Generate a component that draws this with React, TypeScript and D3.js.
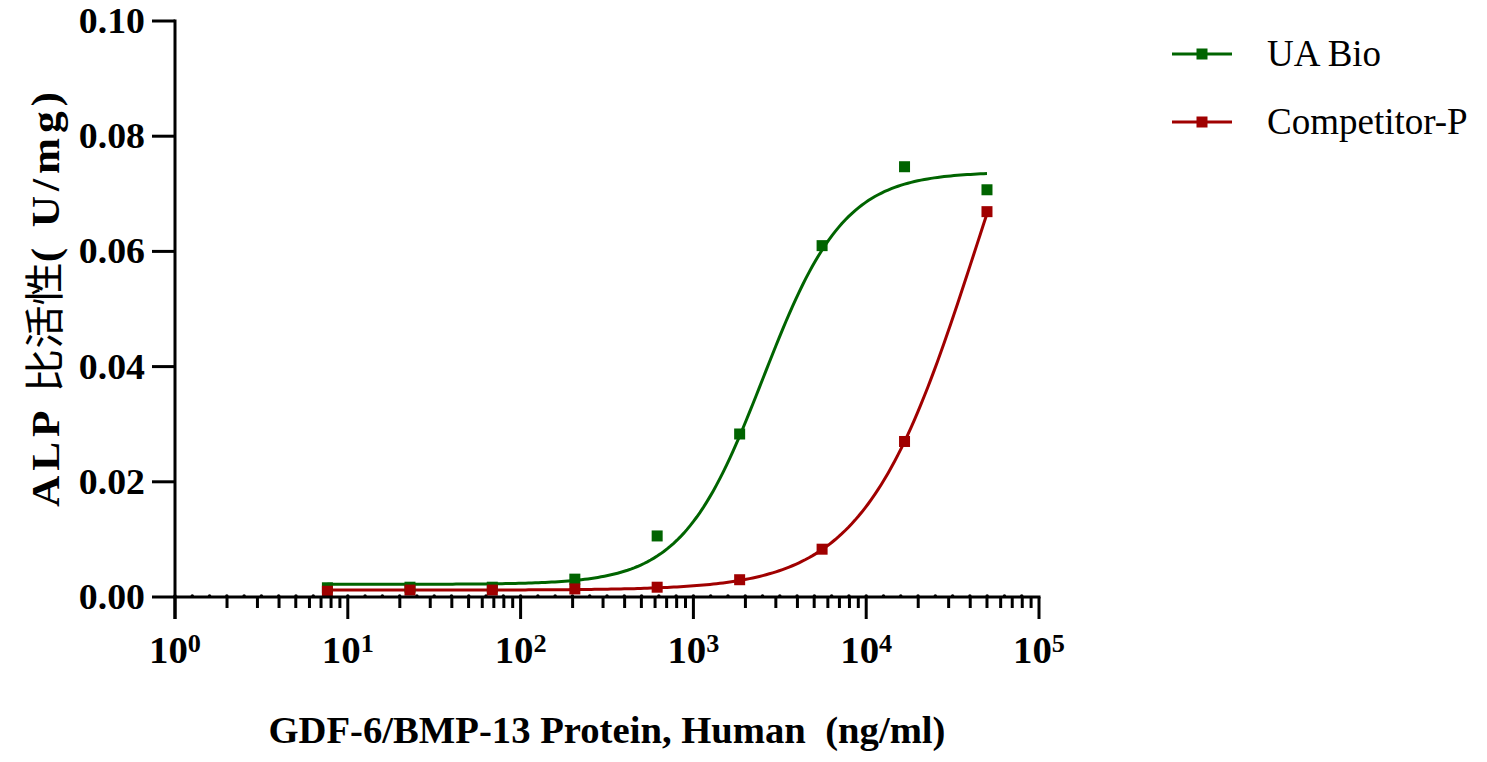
import React from "react";
import * as d3 from "d3";

// concentrations (ng/ml), 3-fold dilution series
const conc = [7.62, 22.9, 68.6, 206, 617, 1852, 5556, 16667, 50000];
const uaBio = [0.0016, 0.0017, 0.0017, 0.0031, 0.0106, 0.0283, 0.061, 0.0747, 0.0707];
const competitor = [0.001, 0.0012, 0.0012, 0.0014, 0.0017, 0.003, 0.0083, 0.027, 0.0669];

// 4PL fit: bottom, top, EC50, hill
const uaFit = [0.0022, 0.0738, 2530, 1.85];
const compFit = [0.0012, 0.12, 43100, 1.35];

const yTicks = [0, 0.02, 0.04, 0.06, 0.08, 0.1];
const xDecades = [0, 1, 2, 3, 4, 5];
const seriesNames = ["UA Bio", "Competitor-P"];
const colors = ["#006400", "#a00000"];

const W = 1487;
const H = 762;
const serif = "'Liberation Serif', 'Times New Roman', serif";

const x = d3.scaleLog().domain([1, 1e5]).range([175, 1039]);
const y = d3.scaleLinear().domain([0, 0.1]).range([597, 21]);

const fit4 = (p: number[]) => (c: number) =>
  p[0] + (p[1] - p[0]) / (1 + Math.pow(p[2] / c, p[3]));

function curvePath(p: number[]) {
  const f = fit4(p);
  const lo = Math.log10(conc[0]);
  const hi = Math.log10(conc[conc.length - 1]);
  const pts = d3.range(0, 201).map((i) => Math.pow(10, lo + ((hi - lo) * i) / 200));
  return d3
    .line<number>()
    .x((c) => x(c))
    .y((c) => y(f(c)))(pts) as string;
}

export default function App() {
  const minor: number[] = [];
  for (let e = 0; e < 5; e++) {
    for (let m = 2; m <= 9; m++) minor.push(m * Math.pow(10, e));
  }
  const series = [uaBio, competitor];
  const fits = [uaFit, compFit];
  const sq = 11;

  return (
    <div style={{ position: "absolute", left: 0, top: 0 }}>
      <svg width={W} height={H} style={{ display: "block", background: "#fff" }}>
        {/* dotted baseline at y = 0 */}
        <line
          x1={x(1)}
          x2={x(1e5)}
          y1={y(0) - 1}
          y2={y(0) - 1}
          stroke="#000"
          strokeWidth={3.5}
          strokeLinecap="round"
          strokeDasharray={`0 ${(x(1e5) - x(1)) / 50}`}
        />

        {/* fitted curves */}
        {fits.map((p, i) => (
          <path key={i} d={curvePath(p)} fill="none" stroke={colors[i]} strokeWidth={3} />
        ))}

        {/* points */}
        {series.map((vals, i) =>
          vals.map((v, j) => (
            <rect
              key={`${i}-${j}`}
              x={x(conc[j]) - sq / 2}
              y={y(v) - sq / 2}
              width={sq}
              height={sq}
              fill={colors[i]}
            />
          ))
        )}

        {/* y axis */}
        <line x1={175} x2={175} y1={y(0.1) - 1.5} y2={y(0) + 22} stroke="#000" strokeWidth={3} />
        {yTicks.map((t) => (
          <g key={t}>
            <line x1={152} x2={175} y1={y(t)} y2={y(t)} stroke="#000" strokeWidth={3} />
            <text
              transform={`translate(145,${y(t) + 12}) scale(1.05,1)`}
              textAnchor="end"
              fontFamily={serif}
              fontWeight="bold"
              fontSize={36}
            >
              {d3.format(".2f")(t)}
            </text>
          </g>
        ))}

        {/* x axis */}
        <line x1={x(1) - 1.5} x2={x(1e5) + 1.5} y1={y(0)} y2={y(0)} stroke="#000" strokeWidth={3} />
        {minor.map((m) => (
          <line key={m} x1={x(m)} x2={x(m)} y1={y(0)} y2={y(0) + 11} stroke="#000" strokeWidth={3} />
        ))}
        {xDecades.map((e) => (
          <g key={e}>
            <line
              x1={x(Math.pow(10, e))}
              x2={x(Math.pow(10, e))}
              y1={y(0)}
              y2={y(0) + 22}
              stroke="#000"
              strokeWidth={3}
            />
            <text
              transform={`translate(${x(Math.pow(10, e))},663) scale(1.05,1)`}
              textAnchor="middle"
              fontFamily={serif}
              fontWeight="bold"
              fontSize={37}
            >
              10
              <tspan dy={-11} fontSize={25}>
                {e}
              </tspan>
            </text>
          </g>
        ))}

        {/* axis titles */}
        <text
          x={607}
          y={743}
          textAnchor="middle"
          fontFamily={serif}
          fontWeight="bold"
          fontSize={38}
          textLength={677}
          lengthAdjust="spacingAndGlyphs"
        >
          GDF-6/BMP-13 Protein, Human{"\u00a0\u00a0"}(ng/ml)
        </text>
        <text
          transform="translate(59,297) scale(1.15,1) rotate(-90)"
          textAnchor="middle"
          fontFamily={`${serif}, 'Noto Sans CJK SC'`}
          fontWeight="bold"
          fontSize={35}
          textLength={420}
          lengthAdjust="spacingAndGlyphs"
          letterSpacing={4}
        >
          ALP{" "}
          <tspan fontFamily="'Noto Sans CJK SC'" fontWeight="normal" letterSpacing={0}>
            比活性
          </tspan>
          ( U/mg)
        </text>

        {/* legend */}
        {seriesNames.map((name, i) => {
          const ly = 54 + i * 68;
          return (
            <g key={name}>
              <line x1={1172} x2={1232} y1={ly} y2={ly} stroke={colors[i]} strokeWidth={3} />
              <rect x={1202 - sq / 2} y={ly - sq / 2} width={sq} height={sq} fill={colors[i]} />
              <text x={1267} y={ly + 12} fontFamily={serif} fontSize={37}>
                {name}
              </text>
            </g>
          );
        })}
      </svg>
    </div>
  );
}
